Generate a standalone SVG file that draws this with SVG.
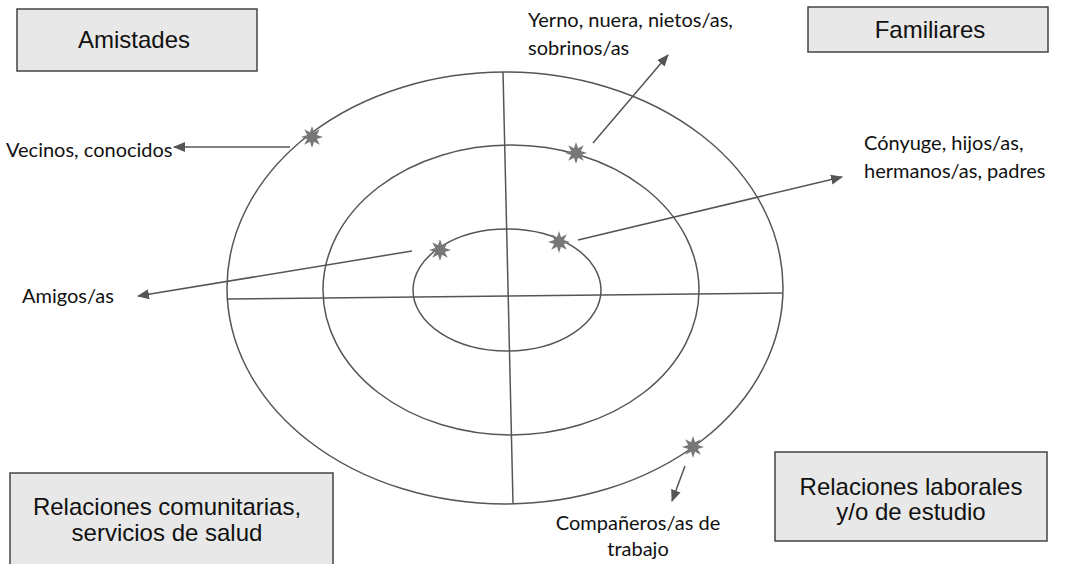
<svg xmlns="http://www.w3.org/2000/svg" width="1065" height="564" viewBox="0 0 1065 564">
<defs>
<style>
.box{fill:#e8e8e8;stroke:#444;stroke-width:1.5}
.bt{font-family:"Liberation Sans",Arial,sans-serif;font-size:24px;fill:#111;text-anchor:middle}
.lt{font-family:Lato,"Open Sans",sans-serif;font-size:20px;fill:#111}
.ring{fill:none;stroke:#555;stroke-width:1.5}
.con{stroke:#555;stroke-width:1.5;fill:none;marker-end:url(#ah)}
.star{fill:#777}
</style>
<marker id="ah" markerWidth="12" markerHeight="12" refX="11" refY="5" orient="auto" markerUnits="userSpaceOnUse" viewBox="0 0 12 10">
<path d="M0,0 L12,5 L0,10 z" fill="#555"/>
</marker>
<polygon id="st" points="0,-11 2,-4.8 7.8,-7.8 4.8,-2 11,0 4.8,2 7.8,7.8 2,4.8 0,11 -2,4.8 -7.8,7.8 -4.8,2 -11,0 -4.8,-2 -7.8,-7.8 -2,-4.8"/>
</defs>
<rect width="1065" height="564" fill="#fff"/>
<g id="rings">
<ellipse class="ring" cx="505" cy="288" rx="278" ry="216"/>
<ellipse class="ring" cx="511" cy="290" rx="188" ry="145"/>
<ellipse class="ring" cx="507" cy="290" rx="94" ry="61"/>
<line class="ring" x1="227" y1="299" x2="782" y2="293"/>
<line class="ring" x1="503" y1="72" x2="513" y2="503"/>
</g>
<g id="connectors">
<line class="con" x1="290" y1="147" x2="174" y2="147"/>
<line class="con" x1="593" y1="143" x2="668" y2="55"/>
<line class="con" x1="578" y1="240" x2="842" y2="177"/>
<line class="con" x1="412" y1="251" x2="138" y2="296"/>
<line class="con" x1="685" y1="466" x2="672" y2="501"/>
</g>
<g id="stars" class="star">
<use href="#st" x="312" y="137"/>
<use href="#st" x="576" y="153"/>
<use href="#st" x="559" y="242"/>
<use href="#st" x="440" y="250"/>
<use href="#st" x="693" y="447"/>
</g>
<g id="amistades">
<rect class="box" x="17" y="9" width="240" height="62"/>
<text class="bt" x="134" y="48">Amistades</text>
</g>
<g id="familiares">
<rect class="box" x="808" y="7" width="240" height="45"/>
<text class="bt" x="930" y="38">Familiares</text>
</g>
<g id="comunitarias">
<rect class="box" x="10" y="473" width="323" height="95"/>
<text class="bt" x="167" y="515">Relaciones comunitarias,</text>
<text class="bt" x="167" y="541">servicios de salud</text>
</g>
<g id="laborales">
<rect class="box" x="775" y="452" width="272" height="89"/>
<text class="bt" x="911" y="495">Relaciones laborales</text>
<text class="bt" x="911" y="520">y/o de estudio</text>
</g>
<g id="labels">
<text class="lt" x="528" y="27">Yerno, nuera, nietos/as,</text>
<text class="lt" x="528" y="55">sobrinos/as</text>
<text class="lt" x="864" y="150">Cónyuge, hijos/as,</text>
<text class="lt" x="864" y="178">hermanos/as, padres</text>
<text class="lt" x="6" y="157">Vecinos, conocidos</text>
<text class="lt" x="22" y="303">Amigos/as</text>
<text class="lt" x="638" y="530" text-anchor="middle">Compañeros/as de</text>
<text class="lt" x="638" y="556" text-anchor="middle">trabajo</text>
</g>
</svg>
